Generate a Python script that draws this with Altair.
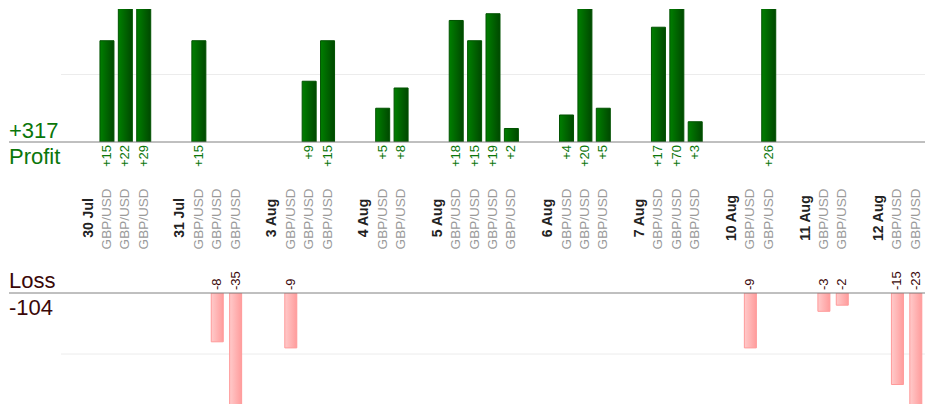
import altair as alt
import pandas as pd

# ---- data ----
dates = ["30 Jul", "31 Jul", "3 Aug", "4 Aug", "5 Aug", "6 Aug", "7 Aug", "10 Aug", "11 Aug", "12 Aug"]
results = [
    [15, 22, 29],
    [15, -8, -35],
    [-9, 9, 15],
    [5, 8],
    [18, 15, 19, 2],
    [4, 20, 5],
    [17, 70, 3],
    [-9, 26],
    [-3, -2],
    [-15, -23],
]
symbol = "GBP/USD"

# ---- build tables ----
trade_rows, date_rows = [], []
slot = 0
for d, res in zip(dates, results):
    slot += 1  # empty spacer slot
    date_rows.append({"slot": slot, "date": d})
    slot += 1
    for v in res:
        trade_rows.append({"slot": slot, "value": v, "symbol": symbol,
                           "vlabel": f"+{v}" if v > 0 else f"{v}"})
        slot += 1
n_slots = slot
trades = pd.DataFrame(trade_rows)
datesdf = pd.DataFrame(date_rows)
profit = trades[trades.value > 0]
loss = trades[trades.value < 0]
total_profit = int(profit.value.sum())
total_loss = int(loss.value.sum())

W = 864
LEFT = -52
FONT = "Liberation Sans"
GREEN_TXT = "#0a760a"
LOSS_TXT = "#3a0808"
BASE = "#808080"
GRID = "#ececec"

xenc = alt.X("slot:O", scale=alt.Scale(domain=list(range(n_slots)), paddingInner=0, paddingOuter=0), axis=None)

green_grad = alt.Gradient(gradient="linear", x1=0, x2=1, y1=0, y2=0,
                          stops=[alt.GradientStop(offset=0, color="#007f00"),
                                 alt.GradientStop(offset=1, color="#004800")])
pink_grad = alt.Gradient(gradient="linear", x1=0, x2=1, y1=0, y2=0,
                         stops=[alt.GradientStop(offset=0, color="#ffcaca"),
                                alt.GradientStop(offset=1, color="#ff9c9c")])

one = pd.DataFrame({"k": [0]})

# ---- profit panel ----
py = alt.Scale(domain=[0, 19.7], nice=False, zero=True)
p_grid = alt.Chart(pd.DataFrame({"g": [10]})).mark_rule(color=GRID, strokeWidth=1).encode(
    y=alt.Y("g:Q", scale=py, axis=None))
p_bars = alt.Chart(profit).mark_bar(clip=True, width=14, color=green_grad,
                                    stroke="#005200", strokeWidth=1).encode(
    x=xenc, y=alt.Y("value:Q", scale=py, axis=None))
p_base = alt.Chart(one).mark_rule(color=BASE, strokeWidth=1).encode(
    x=alt.value(LEFT), x2=alt.value(W), y=alt.datum(0))
p_total = alt.Chart(pd.DataFrame({"t": [f"+{total_profit}"]})).mark_text(
    align="left", baseline="alphabetic", fontSize=22, color=GREEN_TXT).encode(
    text="t:N", x=alt.value(LEFT), y=alt.value(129))
top = alt.layer(p_grid, p_bars, p_base, p_total).properties(width=W, height=133)

# ---- label panel ----
m_profit_word = alt.Chart(pd.DataFrame({"t": ["Profit"]})).mark_text(
    align="left", baseline="alphabetic", fontSize=22, color=GREEN_TXT).encode(
    text="t:N", x=alt.value(LEFT), y=alt.value(21.7))
m_loss_word = alt.Chart(pd.DataFrame({"t": ["Loss"]})).mark_text(
    align="left", baseline="alphabetic", fontSize=22, color=LOSS_TXT).encode(
    text="t:N", x=alt.value(LEFT), y=alt.value(146.3))
m_pvals = alt.Chart(profit).mark_text(angle=270, align="right", baseline="middle",
                                      fontSize=13, color=GREEN_TXT).encode(
    x=xenc, y=alt.value(3), text="vlabel:N")
m_lvals = alt.Chart(loss).mark_text(angle=270, align="left", baseline="middle",
                                    fontSize=13, color=LOSS_TXT).encode(
    x=xenc, y=alt.value(148), text="vlabel:N")
m_dates = alt.Chart(datesdf).mark_text(angle=270, align="center", baseline="middle",
                                       fontSize=14, fontWeight="bold", color="#222222").encode(
    x=xenc, y=alt.value(76), text="date:N")
m_syms = alt.Chart(trades).mark_text(angle=270, align="center", baseline="middle",
                                     fontSize=13.5, color="#9a9a9a").encode(
    x=xenc, y=alt.value(77), text="symbol:N")
mid = alt.layer(m_profit_word, m_loss_word, m_pvals, m_lvals, m_dates, m_syms).properties(width=W, height=151)

# ---- loss panel ----
LH = 111
ly = alt.Scale(domain=[-LH / 6.1, 0], nice=False, zero=True)
l_grid = alt.Chart(pd.DataFrame({"g": [-10]})).mark_rule(color=GRID, strokeWidth=1).encode(
    y=alt.Y("g:Q", scale=ly, axis=None))
l_bars = alt.Chart(loss).mark_bar(clip=True, width=12, color=pink_grad,
                                  stroke="#ff9a9a", strokeWidth=1).encode(
    x=xenc, y=alt.Y("value:Q", scale=ly, axis=None))
l_base = alt.Chart(one).mark_rule(color=BASE, strokeWidth=1).encode(
    x=alt.value(LEFT), x2=alt.value(W), y=alt.datum(0))
l_total = alt.Chart(pd.DataFrame({"t": [f"{total_loss}"]})).mark_text(
    align="left", baseline="alphabetic", fontSize=22, color=LOSS_TXT).encode(
    text="t:N", x=alt.value(LEFT), y=alt.value(22.3))
bottom = alt.layer(l_grid, l_bars, l_base, l_total).properties(width=W, height=LH)

chart = alt.vconcat(top, mid, bottom, spacing=0, bounds="flush").properties(
    padding={"left": 0, "top": 0, "right": 0, "bottom": 0}
).configure(font=FONT, view=alt.ViewConfig(stroke="transparent"))

chart.save("out.html", embed_options={"renderer": "svg", "actions": False})
